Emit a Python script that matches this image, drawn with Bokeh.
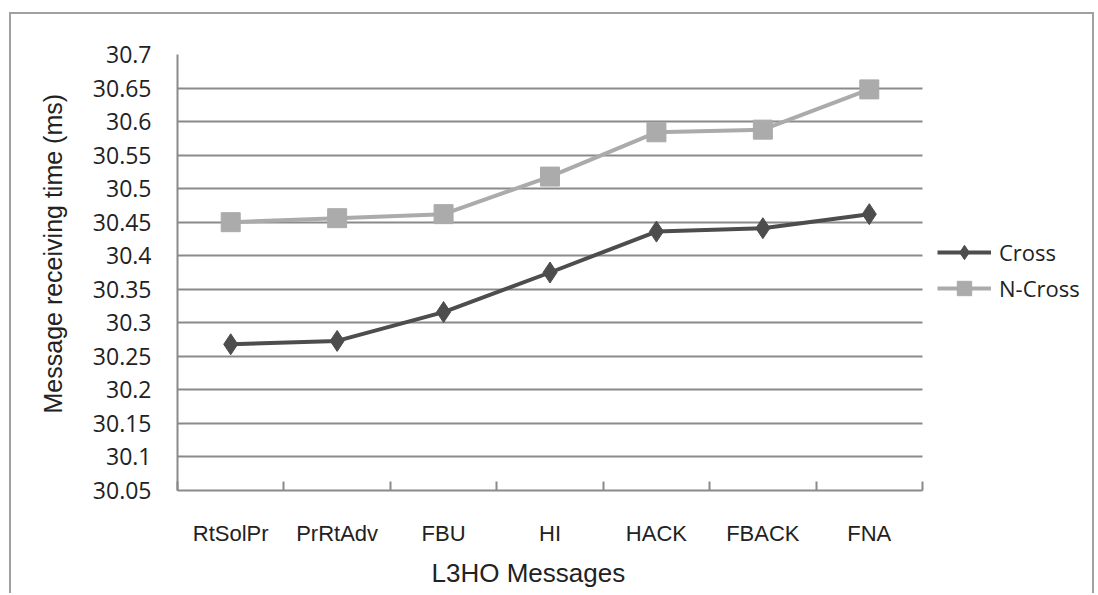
from bokeh.plotting import figure
from bokeh.models import (FixedTicker, Legend, LegendItem, Range1d, ColumnDataSource,
                          BoxAnnotation, Title)
from bokeh.embed import file_html
from bokeh.resources import INLINE

# ---- data ----
categories = ["RtSolPr", "PrRtAdv", "FBU", "HI", "HACK", "FBACK", "FNA"]
cross = [30.268, 30.273, 30.316, 30.375, 30.436, 30.441, 30.462]
ncross = [30.450, 30.456, 30.462, 30.518, 30.584, 30.588, 30.648]
y_ticks = [30.05, 30.1, 30.15, 30.2, 30.25, 30.3, 30.35, 30.4, 30.45, 30.5,
           30.55, 30.6, 30.65, 30.7]
y_tick_labels = ["30.05", "30.1", "30.15", "30.2", "30.25", "30.3", "30.35",
                 "30.4", "30.45", "30.5", "30.55", "30.6", "30.65", "30.7"]
series_names = ["Cross", "N-Cross"]
x_title = "L3HO Messages"
y_title = "Message receiving time (ms)"

n = len(categories)
xs = list(range(n))
src = ColumnDataSource(dict(x=xs, cross=cross, ncross=ncross))

GRID = "#8a8a8a"
C_DARK = "#4d4d4d"
C_LIGHT = "#ababab"
TXT = "#222222"

# layout (canvas starts at page x=11, y=14 because of margin + border)
W, H = 1085, 581
FL, FT, FB = 166, 40, 476          # frame left / top / bottom inside canvas
PLOT_W = 745                        # width of the category area in px
frame_w = W - FL
x_end = -0.5 + n * frame_w / PLOT_W

p = figure(width=W, height=H, output_backend="svg", toolbar_location=None,
           x_range=Range1d(-0.5, x_end),
           y_range=Range1d(y_ticks[0], y_ticks[-1]),
           min_border_left=FL, min_border_right=0,
           min_border_top=FT, min_border_bottom=H - FB)
p.styles = {"margin-left": "9px", "margin-top": "12px",
            "border-left": "2px solid #a0a0a0", "border-top": "2px solid #a0a0a0",
            "border-right": "2px solid #a0a0a0"}
p.outline_line_color = None
p.background_fill_color = "white"
p.border_fill_color = "white"

# grid
p.xgrid.grid_line_color = None
p.ygrid.ticker = FixedTicker(ticks=y_ticks)
p.ygrid.grid_line_color = GRID
p.ygrid.grid_line_width = 2
# white mask to the right of the category area (legend area)
p.add_layout(BoxAnnotation(left=n - 0.5, fill_color="white", fill_alpha=1,
                           line_color=None, level="underlay"))

# y axis
ya = p.yaxis[0]
ya.ticker = FixedTicker(ticks=y_ticks)
ya.major_label_overrides = {t: l for t, l in zip(y_ticks, y_tick_labels)}
ya.major_tick_in = 0
ya.major_tick_out = 0
ya.minor_tick_in = 0
ya.minor_tick_out = 0
ya.axis_line_color = GRID
ya.axis_line_width = 2
ya.major_label_text_font = "Open Sans"
ya.major_label_text_font_size = "23px"
ya.major_label_text_color = TXT
ya.major_label_standoff = 26

# x axis
xa = p.xaxis[0]
bounds = [i - 0.5 for i in range(n + 1)]
xa.bounds = (bounds[0], bounds[-1])
xa.ticker = FixedTicker(ticks=xs, minor_ticks=bounds)
xa.major_label_overrides = {i: c for i, c in zip(xs, categories)}
xa.major_tick_in = 0
xa.major_tick_out = 0
xa.minor_tick_in = 9
xa.minor_tick_out = 0
xa.minor_tick_line_color = GRID
xa.minor_tick_line_width = 2
xa.axis_line_color = GRID
xa.axis_line_width = 2
xa.major_label_text_font = "Liberation Sans"
xa.major_label_text_font_size = "22px"
xa.major_label_text_color = TXT
xa.major_label_standoff = 30

# axis titles
xt = Title(text=x_title, align="left", offset=254, standoff=15,
           text_font="Liberation Sans", text_font_size="26px",
           text_font_style="normal", text_color=TXT)
p.add_layout(xt, "below")
yt = Title(text=y_title, align="left", offset=77, standoff=46,
           text_font="Liberation Sans", text_font_size="25px",
           text_font_style="normal", text_color=TXT)
p.add_layout(yt, "left")

# series
l1 = p.line("x", "cross", source=src, line_color=C_DARK, line_width=4)
m1 = p.scatter("x", "cross", source=src, marker="diamond", size=21,
               fill_color=C_DARK, line_color=C_DARK)
l2 = p.line("x", "ncross", source=src, line_color=C_LIGHT, line_width=4)
m2 = p.scatter("x", "ncross", source=src, marker="square", size=19,
               fill_color=C_LIGHT, line_color=C_LIGHT)

legend = Legend(items=[LegendItem(label=series_names[0], renderers=[l1, m1]),
                       LegendItem(label=series_names[1], renderers=[l2, m2])],
                location=(760, 184))
legend.border_line_color = None
legend.background_fill_alpha = 0
legend.glyph_width = 54
legend.glyph_height = 36
legend.label_height = 36
legend.spacing = 0
legend.padding = 6
legend.margin = 0
legend.label_standoff = 8
legend.label_text_font = "Open Sans"
legend.label_text_font_size = "22px"
legend.label_text_color = TXT
p.add_layout(legend, "center")

open("out.html", "w").write(file_html(p, INLINE))
